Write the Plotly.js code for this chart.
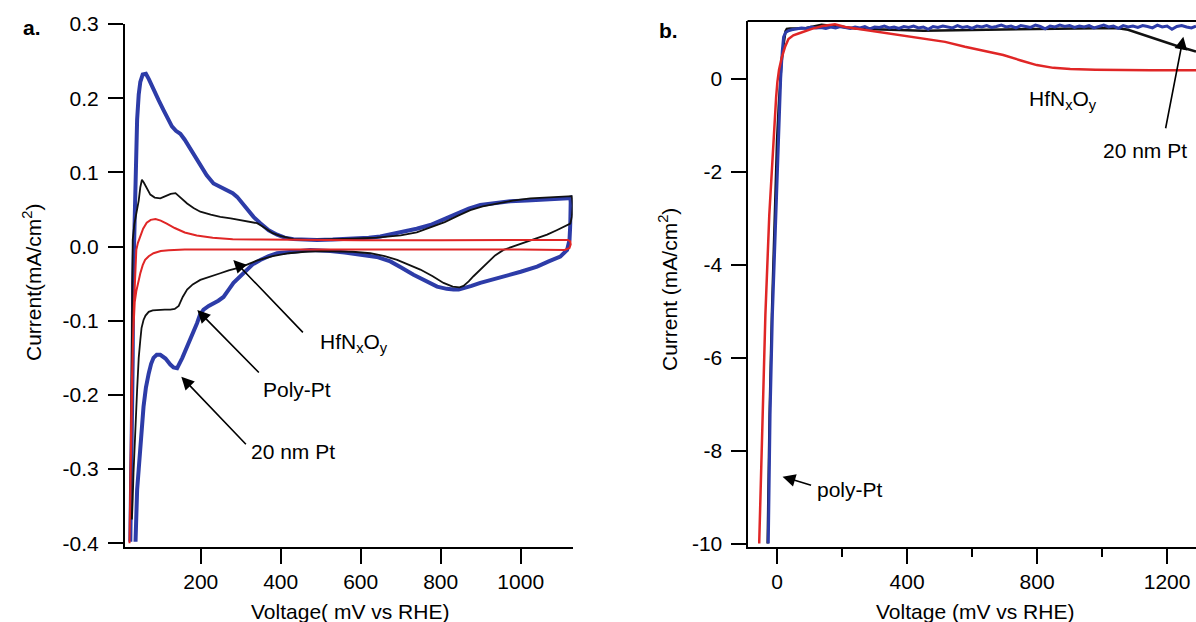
<!DOCTYPE html>
<html>
<head>
<meta charset="utf-8">
<script src="https://cdn.plot.ly/plotly-3.0.1.min.js"></script>
<style>html,body{margin:0;padding:0;background:#fff;}#chart{width:1196px;height:622px;}</style>
</head>
<body>
<div id="chart"></div>
<script>
// ---------- Panel a: cyclic voltammograms (mV vs RHE, mA/cm2) ----------
const ptBlueAX = [24,26,28,30,31,33,36,41,45,49,55,63,70,82,95,107,118,128,138,149,160,170,185,199,215,232,250,266,280,291,303,316,332,349,370,391,410,432,460,491,530,574,620,649,700,740,774,810,841,870,899,935,974,1015,1057,1095,1118,1124,
  1125,1124,1122,1116,
  1099,1070,1041,1000,957,925,899,877,857,845,832,815,791,760,732,700,674,640,607,560,524,474,449,420,391,370,349,330,316,300,282,270,257,244,232,220,207,198,191,178,166,154,141,132,124,112,99,90,82,76,70,63,57,53,49,45,41,37];
const ptBlueAY = [-0.398,-0.33,-0.25,-0.15,-0.05,0.0,0.07,0.171,0.205,0.222,0.232,0.233,0.226,0.211,0.197,0.184,0.172,0.162,0.156,0.152,0.144,0.135,0.122,0.108,0.096,0.085,0.080,0.076,0.072,0.067,0.059,0.049,0.040,0.0315,0.022,0.016,0.012,0.010,0.009,0.009,0.0095,0.0104,0.012,0.0135,0.019,0.024,0.029,0.037,0.045,0.051,0.056,0.059,0.061,0.062,0.063,0.064,0.065,0.066,
  0.06,0.03,0.009,-0.0045,
  -0.0135,-0.020,-0.027,-0.034,-0.040,-0.045,-0.049,-0.053,-0.056,-0.058,-0.058,-0.057,-0.054,-0.046,-0.038,-0.028,-0.020,-0.014,-0.011,-0.008,-0.006,-0.0045,-0.006,-0.007,-0.009,-0.013,-0.018,-0.024,-0.031,-0.039,-0.049,-0.058,-0.068,-0.073,-0.076,-0.080,-0.085,-0.092,-0.103,-0.120,-0.135,-0.150,-0.164,-0.163,-0.159,-0.151,-0.146,-0.146,-0.150,-0.158,-0.171,-0.19,-0.216,-0.24,-0.27,-0.30,-0.328,-0.398];

const polyPtAX = [24,25,26,27,28,30,34,40,45,49,53,58,65,74,85,99,112,125,137,150,166,182,199,225,249,275,299,320,341,355,366,380,399,415,432,470,520,580,640,700,740,774,810,845,874,905,941,980,1024,1070,1105,1124,
  1128,1130,1128,1124,
  1107,1090,1066,1040,1007,980,957,936,916,900,882,870,857,847,841,830,807,780,749,720,691,660,624,580,540,500,460,420,380,340,299,270,249,225,199,180,166,155,145,135,124,110,91,80,70,62,57,52,49,45,41,36,32,30,28];
const polyPtAY = [-0.368,-0.30,-0.216,-0.12,-0.04,0.009,0.030,0.045,0.062,0.080,0.090,0.086,0.078,0.070,0.066,0.065,0.068,0.071,0.072,0.066,0.058,0.052,0.047,0.043,0.040,0.038,0.036,0.034,0.0315,0.027,0.0225,0.018,0.0144,0.012,0.010,0.009,0.0095,0.0105,0.012,0.015,0.019,0.026,0.033,0.042,0.049,0.054,0.058,0.062,0.065,0.066,0.067,0.068,
  0.068,0.055,0.040,0.031,
  0.027,0.022,0.016,0.011,0.0045,-0.0005,-0.0045,-0.012,-0.022,-0.031,-0.040,-0.047,-0.053,-0.055,-0.055,-0.054,-0.049,-0.040,-0.031,-0.024,-0.018,-0.013,-0.009,-0.007,-0.006,-0.006,-0.007,-0.009,-0.013,-0.019,-0.028,-0.032,-0.036,-0.040,-0.045,-0.051,-0.058,-0.068,-0.080,-0.084,-0.085,-0.085,-0.085,-0.086,-0.088,-0.093,-0.099,-0.110,-0.126,-0.150,-0.193,-0.250,-0.305,-0.340,-0.368];

const hfnoAX = [22,24,27,30,33,36,39,43,49,56,65,75,87,100,115,135,160,190,230,280,350,450,600,800,1000,1100,1118,1124,
  1125,1122,
  1110,1000,800,600,400,250,160,120,100,82,70,61,55,49,44,39,35,31,27,24,22];
const hfnoAY = [-0.40,-0.32,-0.22,-0.14,-0.08,-0.035,-0.0045,0.005,0.0135,0.024,0.032,0.036,0.037,0.035,0.031,0.025,0.019,0.015,0.012,0.010,0.0095,0.009,0.0085,0.0085,0.0085,0.009,0.009,0.007,
  0.003,-0.002,
  -0.0045,-0.004,-0.004,-0.0035,-0.0035,-0.0035,-0.004,-0.005,-0.006,-0.009,-0.013,-0.018,-0.025,-0.036,-0.048,-0.060,-0.075,-0.12,-0.20,-0.30,-0.40];

const aYTickVals = [0.3,0.2,0.1,0.0,-0.1,-0.2,-0.3,-0.4];
const aYTickText = ['0.3','0.2','0.1','0.0','-0.1','-0.2','-0.3','-0.4'];
const aXTickVals = [200,400,600,800,1000];
const aXTickText = ['200','400','600','800','1000'];

// ---------- Panel b: polarisation curves ----------
const polyPtBX = [-29,-23,-16,-9,-5,0,5,9,13,18,22,26,30,40,60,90,137,180,250,350,450,550,650,750,850,950,1045,1080,1110,1130,1160,1190,1210,1240,1265,1289];
const polyPtBY = [-10,-7.23,-5.08,-3.2,-2.2,-1.3,-0.6,-0.1,0.3,0.65,0.9,1.03,1.08,1.09,1.09,1.10,1.17,1.14,1.08,1.06,1.04,1.05,1.06,1.08,1.09,1.10,1.10,1.06,0.99,0.94,0.86,0.79,0.76,0.69,0.64,0.59];

const ptBlueBX = [-27,-21.5,-14.4,-4,1,6,11,16,20,26,35,45,
  60,75,90,105,120,135,150,165,180,195,210,225,240,255,270,285,300,315,330,345,360,375,390,405,420,435,450,465,480,495,510,525,540,555,570,585,600,615,630,645,660,675,690,705,720,735,750,765,780,795,810,825,840,855,870,885,900,915,930,945,960,975,990,1005,1020,1035,1050,1065,1080,1095,1110,1125,1140,1155,1170,1185,1200,1215,1230,1245,1260,1275,1289];
const ptBlueBY = [-10,-7.23,-5.08,-2.93,-1.8,-0.78,0.0,0.6,0.9,1.0,1.04,1.06,
  1.08,1.10,1.09,1.12,1.10,1.11,1.09,1.12,1.10,1.13,
  1.11,1.09,1.12,1.10,1.13,1.08,1.12,1.11,1.14,1.10,
  1.12,1.09,1.13,1.11,1.14,1.10,1.12,1.07,1.13,1.11,
  1.14,1.12,1.10,1.15,1.11,1.13,1.09,1.14,1.12,1.15,
  1.11,1.13,1.16,1.12,1.14,1.10,1.15,1.13,1.11,1.16,
  1.13,1.08,1.14,1.12,1.16,1.13,1.15,1.11,1.14,1.12,
  1.15,1.10,1.13,1.16,1.12,1.14,1.09,1.15,1.12,1.14,
  1.11,1.15,1.13,1.10,1.16,1.12,1.14,1.07,1.13,1.15,
  1.12,1.10,1.14];

const hfnoBX = [-55,-44,-36,-24,-15,-8,-3,1,6,14,25,35,50,66,85,107,140,178,210,260,312,360,414,470,517,578,640,696,750,799,850,902,980,1055,1150,1289];
const hfnoBY = [-10,-7.23,-5.08,-2.93,-1.8,-0.78,-0.4,-0.06,0.2,0.45,0.70,0.86,0.94,0.98,1.03,1.08,1.14,1.18,1.12,1.07,1.02,0.97,0.91,0.86,0.80,0.695,0.60,0.517,0.40,0.30,0.24,0.215,0.20,0.19,0.19,0.19];

const bYTickVals = [0,-2,-4,-6,-8,-10];
const bYTickText = ['0','-2','-4','-6','-8','-10'];
const bXTickVals = [0,400,800,1200];
const bXTickText = ['0','400','800','1200'];

// ---------- drawing ----------
const W = 1196, H = 622;
const px = p => p / W;
const py = p => (H - p) / H;
const FONT = 'Liberation Sans, Arial, Helvetica, sans-serif';
const FS = 21;
const BLUE = '#2d3ca8', RED = '#e02626', BLACK = '#111111';

const traces = [
  {x: ptBlueAX, y: ptBlueAY, xaxis: 'x', yaxis: 'y', mode: 'lines', line: {color: BLUE, width: 4}},
  {x: polyPtAX, y: polyPtAY, xaxis: 'x', yaxis: 'y', mode: 'lines', line: {color: BLACK, width: 1.8}},
  {x: hfnoAX, y: hfnoAY, xaxis: 'x', yaxis: 'y', mode: 'lines', line: {color: RED, width: 2}},
  {x: polyPtBX, y: polyPtBY, xaxis: 'x2', yaxis: 'y2', mode: 'lines', line: {color: BLACK, width: 2.5}},
  {x: ptBlueBX, y: ptBlueBY, xaxis: 'x2', yaxis: 'y2', mode: 'lines', line: {color: BLUE, width: 3}},
  {x: hfnoBX, y: hfnoBY, xaxis: 'x2', yaxis: 'y2', mode: 'lines', line: {color: RED, width: 2.5}}
];

const axBase = {
  showline: true, linecolor: '#000', linewidth: 2, ticks: 'outside', ticklen: 15,
  tickwidth: 2, tickcolor: '#000', showgrid: false, zeroline: false,
  tickfont: {family: FONT, size: FS, color: '#000'}, tickmode: 'array', fixedrange: true
};

const txt = (text, x, y, extra) => Object.assign({
  text: text, xref: 'paper', yref: 'paper', x: px(x), y: py(y), showarrow: false,
  xanchor: 'center', yanchor: 'middle', font: {family: FONT, size: FS, color: '#000'}
}, extra || {});

const arrow = (xa, ya, xd, yd, axp, ayp) => ({
  text: '', xref: xa, yref: ya, x: xd, y: yd, axref: 'pixel', ayref: 'pixel', ax: axp, ay: ayp,
  showarrow: true, arrowhead: 2, arrowsize: 1.6, arrowwidth: 1.6, arrowcolor: '#000', standoff: 0
});

const layout = {
  width: W, height: H, margin: {l: 0, r: 0, t: 0, b: 0},
  paper_bgcolor: '#fff', plot_bgcolor: '#fff', showlegend: false,
  xaxis: Object.assign({}, axBase, {domain: [px(125), px(572.7)], range: [10.7, 1130], anchor: 'y',
    tickvals: aXTickVals, ticktext: aXTickText}),
  yaxis: Object.assign({}, axBase, {domain: [py(547), py(24)], range: [-0.405, 0.3], anchor: 'x',
    tickvals: aYTickVals, ticktext: aYTickText, ticklabelstandoff: 5}),
  xaxis2: Object.assign({}, axBase, {domain: [px(747.5), 1], range: [-91, 1289], anchor: 'y2',
    tickvals: bXTickVals, ticktext: bXTickText,
    minor: {tickvals: [200, 600, 1000], ticks: 'outside', ticklen: 8, tickwidth: 2, tickcolor: '#000', showgrid: false}}),
  yaxis2: Object.assign({}, axBase, {domain: [py(547), py(21)], range: [-10.075, 1.249], anchor: 'x2',
    tickvals: bYTickVals, ticktext: bYTickText, ticklabelstandoff: 4}),
  shapes: [
    {type: 'line', xref: 'x2 domain', yref: 'y2 domain', x0: 0, x1: 1, y0: 1, y1: 1, line: {color: '#000', width: 2}}
  ],
  annotations: [
    txt('<b>a.</b>', 32, 27),
    txt('<b>b.</b>', 668, 31),
    txt('Current(mA/cm<sup>2</sup>)', 32, 282, {textangle: -90}),
    txt('Current (mA/cm<sup>2</sup>)', 668, 290, {textangle: -90}),
    txt('Voltage( mV vs RHE)', 350, 611),
    txt('Voltage (mV vs RHE)', 975, 611),
    txt('HfN<sub>x</sub>O<sub>y</sub>', 354, 343),
    txt('Poly-Pt', 297, 390),
    txt('20 nm Pt', 293, 451),
    txt('poly-Pt', 850, 489),
    txt('HfN<sub>x</sub>O<sub>y</sub>', 1063, 100),
    txt('20 nm Pt', 1145, 150),
    arrow('x', 'y', 281.5, -0.018, 71, 74),
    arrow('x', 'y', 191.5, -0.0856, 63, 64),
    arrow('x', 'y', 151.5, -0.1755, 66, 69),
    arrow('x2', 'y2', 16.9, -8.56, 30, 9),
    arrow('x2', 'y2', 1250, 0.91, -18, 93)
  ]
};

Plotly.newPlot('chart', traces, layout, {displayModeBar: false, staticPlot: true});
</script>
</body>
</html>
